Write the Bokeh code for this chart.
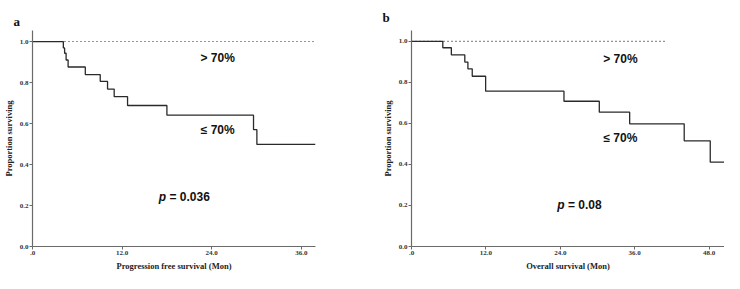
from bokeh.plotting import figure
from bokeh.layouts import row
from bokeh.models import Label, Range1d, FixedTicker
from bokeh.embed import file_html
from bokeh.resources import INLINE

# ---- data ----
a_time = [0, 4.13, 4.3, 4.5, 4.77, 7.07, 9.07, 10.05, 10.94, 12.73, 18.0, 29.6, 30.05, 37.9]
a_surv = [1.0, 0.969, 0.943, 0.910, 0.876, 0.839, 0.806, 0.768, 0.731, 0.688, 0.641, 0.570, 0.498, 0.498]
a_ref_time = [0, 37.7]
a_ref_surv = [1.0, 1.0]

b_time = [0, 5.05, 6.43, 8.6, 9.1, 9.8, 11.96, 24.6, 30.3, 35.2, 44.0, 48.2, 50.5]
b_surv = [1.0, 0.969, 0.934, 0.899, 0.866, 0.830, 0.757, 0.708, 0.655, 0.598, 0.515, 0.411, 0.411]
b_ref_time = [0, 40.9]
b_ref_surv = [1.0, 1.0]

a_xticks = [0, 12, 24, 36]
b_xticks = [0, 12, 24, 36, 48]
y_ticks = [0, 0.2, 0.4, 0.6, 0.8, 1.0]
a_xlabel = "Progression free survival (Mon)"
b_xlabel = "Overall survival (Mon)"
y_label = "Proportion surviving"
a_p = "\u00a0= 0.036"
b_p = "\u00a0= 0.08"

SERIF = "Liberation Serif"
SANS = "Liberation Sans"
CURVE = "#2a2a2a"
AXIS = "#6a6a6a"


def make_panel(w, h, xr, yr, xticks, xlabel, borders):
    p = figure(width=w, height=h, x_range=Range1d(*xr), y_range=Range1d(*yr),
               output_backend="svg", toolbar_location=None, tools="")
    p.min_border_left, p.min_border_right, p.min_border_top, p.min_border_bottom = borders
    p.outline_line_color = None
    p.grid.visible = False
    p.background_fill_color = "white"
    p.border_fill_color = "white"
    for ax in (p.xaxis[0], p.yaxis[0]):
        ax.axis_line_color = AXIS
        ax.axis_line_width = 1.2
        ax.major_tick_line_color = AXIS
        ax.major_tick_in = 0
        ax.major_tick_out = 3
        ax.minor_tick_line_color = None
        ax.major_label_text_font = SERIF
        ax.major_label_text_font_style = "bold"
        ax.major_label_text_font_size = "7px"
        ax.major_label_text_color = "#333333"
        ax.axis_label_text_font = SERIF
        ax.axis_label_text_font_style = "bold"
        ax.axis_label_text_font_size = "8.5px"
        ax.axis_label_text_color = "#222222"
        ax.major_label_standoff = 1
        ax.axis_label_standoff = 3
    p.xaxis.ticker = FixedTicker(ticks=xticks)
    p.xaxis.major_label_overrides = {0: ".0"} | {t: f"{t:.1f}" for t in xticks if t}
    p.yaxis.ticker = FixedTicker(ticks=y_ticks)
    p.yaxis.major_label_overrides = {t: f"{t:.1f}" for t in y_ticks}
    p.xaxis.axis_label = xlabel
    p.yaxis.axis_label = y_label
    return p


def set_panel_title(p, letter, offset, standoff):
    p.title.text = letter
    p.title.align = "left"
    p.title.offset = offset
    p.title.standoff = standoff
    p.title.text_font = SERIF
    p.title.text_font_size = "13px"
    p.title.text_font_style = "bold"
    p.title.text_color = "#111111"


def add_text(p, x, y, text, size="12px", style="bold", align="center", font=SANS):
    p.add_layout(Label(x=x, y=y, text=text, text_font=font, text_font_size=size,
                       text_font_style=style, text_align=align, text_baseline="middle",
                       text_color="#111111"))


# panel a
pa = make_panel(362, 273, (0, 37.9), (0, 1.054), a_xticks, a_xlabel, (24, 47, 25, 25))
pa.line(a_ref_time, a_ref_surv, line_color=CURVE, line_width=1.1, line_dash="1 3")
pa.step(a_time, a_surv, mode="after", line_color=CURVE, line_width=1.3)
add_text(pa, 24.8, 0.919, "> 70%")
add_text(pa, 24.8, 0.570, "≤ 70%")
add_text(pa, 17.9, 0.243, "p", style="bold italic", align="right")
add_text(pa, 17.9, 0.243, a_p, align="left")
set_panel_title(pa, "a", -19, 3)

# panel b
pb = make_panel(362, 273, (0, 50.5), (0, 1.053), b_xticks, b_xlabel, (49, 0, 30, 26))
pb.line(b_ref_time, b_ref_surv, line_color=CURVE, line_width=1.1, line_dash="1 3")
pb.step(b_time, b_surv, mode="after", line_color=CURVE, line_width=1.3)
add_text(pb, 33.7, 0.913, "> 70%")
add_text(pb, 33.7, 0.530, "≤ 70%")
add_text(pb, 24.7, 0.203, "p", style="bold italic", align="right")
add_text(pb, 24.7, 0.203, b_p, align="left")
set_panel_title(pb, "b", -29, 11)

layout = row(pa, pb)
open("out.html", "w").write(file_html(layout, INLINE))
